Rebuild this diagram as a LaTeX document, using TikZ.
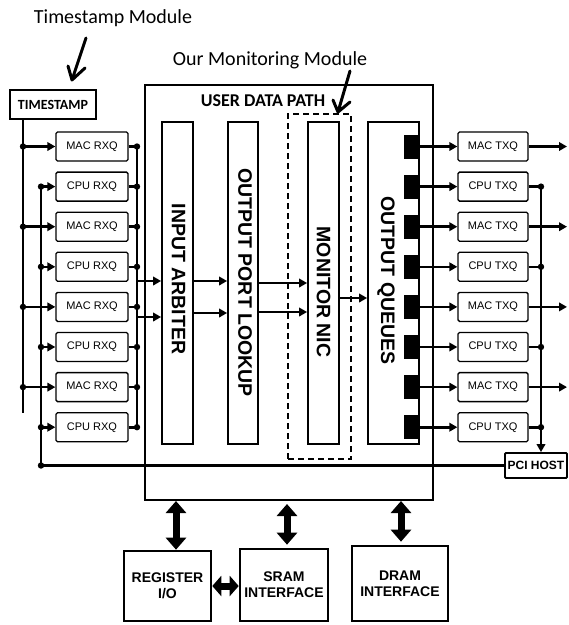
\documentclass[tikz,border=0pt]{standalone}
\usepackage{fontspec}
\setmainfont{Carlito}
\newfontfamily\arialfont{Liberation Sans}
\usetikzlibrary{arrows.meta,calc}

\begin{document}
\begin{tikzpicture}[x=1pt,y=-1pt,
  qbox/.style={draw,line width=1.3pt,rounded corners=1.5pt,minimum width=72pt,
    minimum height=29pt,inner sep=0pt,font=\arialfont\fontsize{11}{13}\selectfont},
  blockbox/.style={draw,line width=1.8pt,minimum height=322pt,inner sep=0pt},
  vlabel/.style={rotate=-90,inner sep=0pt,font=\arialfont\bfseries\fontsize{19.5}{22}\selectfont},
  sqr/.style={fill=black,draw=none,minimum width=15pt,minimum height=24pt,inner sep=0pt},
  bus/.style={line width=2.6pt},
  arr/.style={-{Triangle[length=8pt,width=8.5pt]}},
  dotc/.style={fill=black},
  botbox/.style={draw,line width=2.6pt,inner sep=0pt,align=center,
    font=\arialfont\bfseries\fontsize{14}{16}\selectfont},
  dbl/.style={line width=7pt,{Triangle[length=12pt,width=20pt]}-{Triangle[length=12pt,width=20pt]}},
  pen/.style={line width=3pt,line cap=round,line join=round},
  toplabel/.style={inner sep=0pt,font=\fontsize{20}{24}\selectfont}
]
\useasboundingbox (0,0) rectangle (569,625);

% annotations above the diagram, with hand-drawn style arrows
\node[toplabel] (tml) at (113,18) {Timestamp Module};
\node[toplabel] (oml) at (270,60) {Our Monitoring Module};
\coordinate (tsa) at (86,38);
\coordinate (tsb) at (72,80);
\coordinate (oma) at (350,71);
\coordinate (omb) at (338,112);
\draw[pen] (tsa) -- (tsb) -- ++(-4,-14) (tsb) -- ++(13,-12);

% user data path frame and its pipeline stages
\node[draw,line width=2.5pt,minimum width=288pt,minimum height=415pt,inner sep=0pt]
  (main) at (289,292.5) {};
\node[inner sep=0pt,font=\bfseries\fontsize{18}{22}\selectfont] (udp) at (263,101) {USER DATA PATH};

\node[blockbox,minimum width=31pt] (ia)  at (177.5,283) {};
\node[blockbox,minimum width=30pt] (opl) at (243,283) {};
\node[blockbox,minimum width=31pt] (nic) at (323.5,283) {};
\node[blockbox,minimum width=51pt] (oq)  at (393.5,283) {};
\node[vlabel] (ial)  at (178.5,279) {INPUT ARBITER};
\node[vlabel] (opll) at (245,282.5) {OUTPUT PORT LOOKUP};
\node[vlabel] (nicl) at (323.5,292) {MONITOR NIC};
\node[vlabel] (oql)  at (386,280.5) {OUTPUT QUEUES};

\node[draw,line width=1.6pt,dash pattern=on 6pt off 4pt,minimum width=63pt,
  minimum height=345pt,inner sep=0pt] (mon) at (319.5,286.5) {};
\draw[pen] (oma) -- (omb) -- ++(-5,-12) (omb) -- ++(12,-10);

% timestamp source and PCI host
\node[draw,line width=2.4pt,minimum width=86pt,minimum height=29pt,inner sep=0pt,
  font=\bfseries\fontsize{14}{16}\selectfont] (ts) at (53,104.5) {TIMESTAMP};
\node[draw,line width=1.8pt,rounded corners=1pt,minimum width=62pt,minimum height=25pt,
  inner sep=0pt,font=\arialfont\bfseries\fontsize{12}{14}\selectfont] (pci) at (536,465.5) {PCI HOST};

% receive and transmit queues
\foreach \i/\k in {0/MAC,1/CPU,2/MAC,3/CPU,4/MAC,5/CPU,6/MAC,7/CPU}{
  \pgfmathsetmacro\yy{146.5+40.1*\i}
  \node[qbox] (rxq\i) at (92,\yy) {\k\ RXQ};
  \node[qbox,minimum width=70pt] (txq\i) at (493,\yy) {\k\ TXQ};
  \node[sqr] (sq\i) at (411.5,\yy) {};
  \coordinate (out\i) at (567,\yy);
}

\coordinate (tsend) at (23,413);
\coordinate (cpubot) at (41,465.5);
\coordinate (rbus) at (137,0);
\coordinate (cbus) at (541,0);

% timestamp feed to the MAC receive queues
\draw[bus] (ts.south -| tsend) -- (tsend);
\foreach \i in {0,2,4,6}{
  \draw[bus,arr] (rxq\i.west -| tsend) -- (rxq\i.west);
  \fill[dotc] (rxq\i.west -| tsend) circle (3.2pt);
}
% CPU bus from the PCI host to the CPU receive queues
\draw[bus] (rxq1.west -| cpubot) -- (cpubot) -- (pci.west);
\fill[dotc] (cpubot) circle (3.2pt);
\foreach \i in {1,3,5,7}{
  \draw[bus,arr] (rxq\i.west -| cpubot) -- (rxq\i.west);
  \fill[dotc] (rxq\i.west -| cpubot) circle (3.2pt);
}
% receive queues merge into the input arbiter
\draw[bus] (rxq0.east -| rbus) -- (rxq7.east -| rbus);
\foreach \i in {0,...,7}{
  \draw[bus] (rxq\i.east) -- (rxq\i.east -| rbus);
  \fill[dotc] (rxq\i.east -| rbus) circle (3.2pt);
}
\coordinate (in1) at (137,281);
\coordinate (in2) at (137,317);
\draw[bus,arr] (in1) -- (in1 -| ia.west);
\draw[bus,arr] (in2) -- (in2 -| ia.west);

% pipeline arrows
\coordinate (h1) at (0,281);
\coordinate (h2) at (0,313);
\coordinate (h3) at (0,283);
\coordinate (h4) at (0,312);
\coordinate (h5) at (0,298);
\draw[bus,arr] (ia.east |- h1) -- (opl.west |- h1);
\draw[bus,arr] (ia.east |- h2) -- (opl.west |- h2);
\draw[bus,arr] (opl.east |- h3) -- (nic.west |- h3);
\draw[bus,arr] (opl.east |- h4) -- (nic.west |- h4);
\draw[bus,arr] (nic.east |- h5) -- (oq.west |- h5);

% output queues to the transmit queues
\foreach \i in {0,...,7}{
  \draw[bus,arr] (sq\i.east) -- (txq\i.west);
}
\foreach \i in {0,2,4,6}{
  \draw[bus,arr] (txq\i.east) -- (out\i);
}
\foreach \i in {1,3,5,7}{
  \draw[bus] (txq\i.east) -- (txq\i.east -| cbus);
  \fill[dotc] (txq\i.east -| cbus) circle (3.2pt);
}
\draw[bus,arr] (txq1.east -| cbus) -- (cbus |- pci.north);

% memory and register interfaces
\node[botbox,minimum width=87pt,minimum height=70pt] (reg)  at (167.5,586) {REGISTER\\I/O};
\node[botbox,minimum width=88pt,minimum height=72pt] (sram) at (284,585) {SRAM\\INTERFACE};
\node[botbox,minimum width=96pt,minimum height=75pt] (dram) at (400,583.5) {DRAM\\INTERFACE};

\coordinate (p1) at (176,501);
\coordinate (p2) at (287,504);
\coordinate (p3) at (401,501);
\draw[dbl] (p1) -- (p1 |- reg.north);
\draw[dbl,shorten >=3pt] (p2) -- (p2 |- sram.north);
\draw[dbl,shorten >=3pt] (p3) -- (p3 |- dram.north);
\draw[line width=7pt,{Triangle[length=9pt,width=20pt]}-{Triangle[length=9pt,width=20pt]}]
  (reg.east) -- (reg.east -| sram.west);
\end{tikzpicture}
\end{document}
